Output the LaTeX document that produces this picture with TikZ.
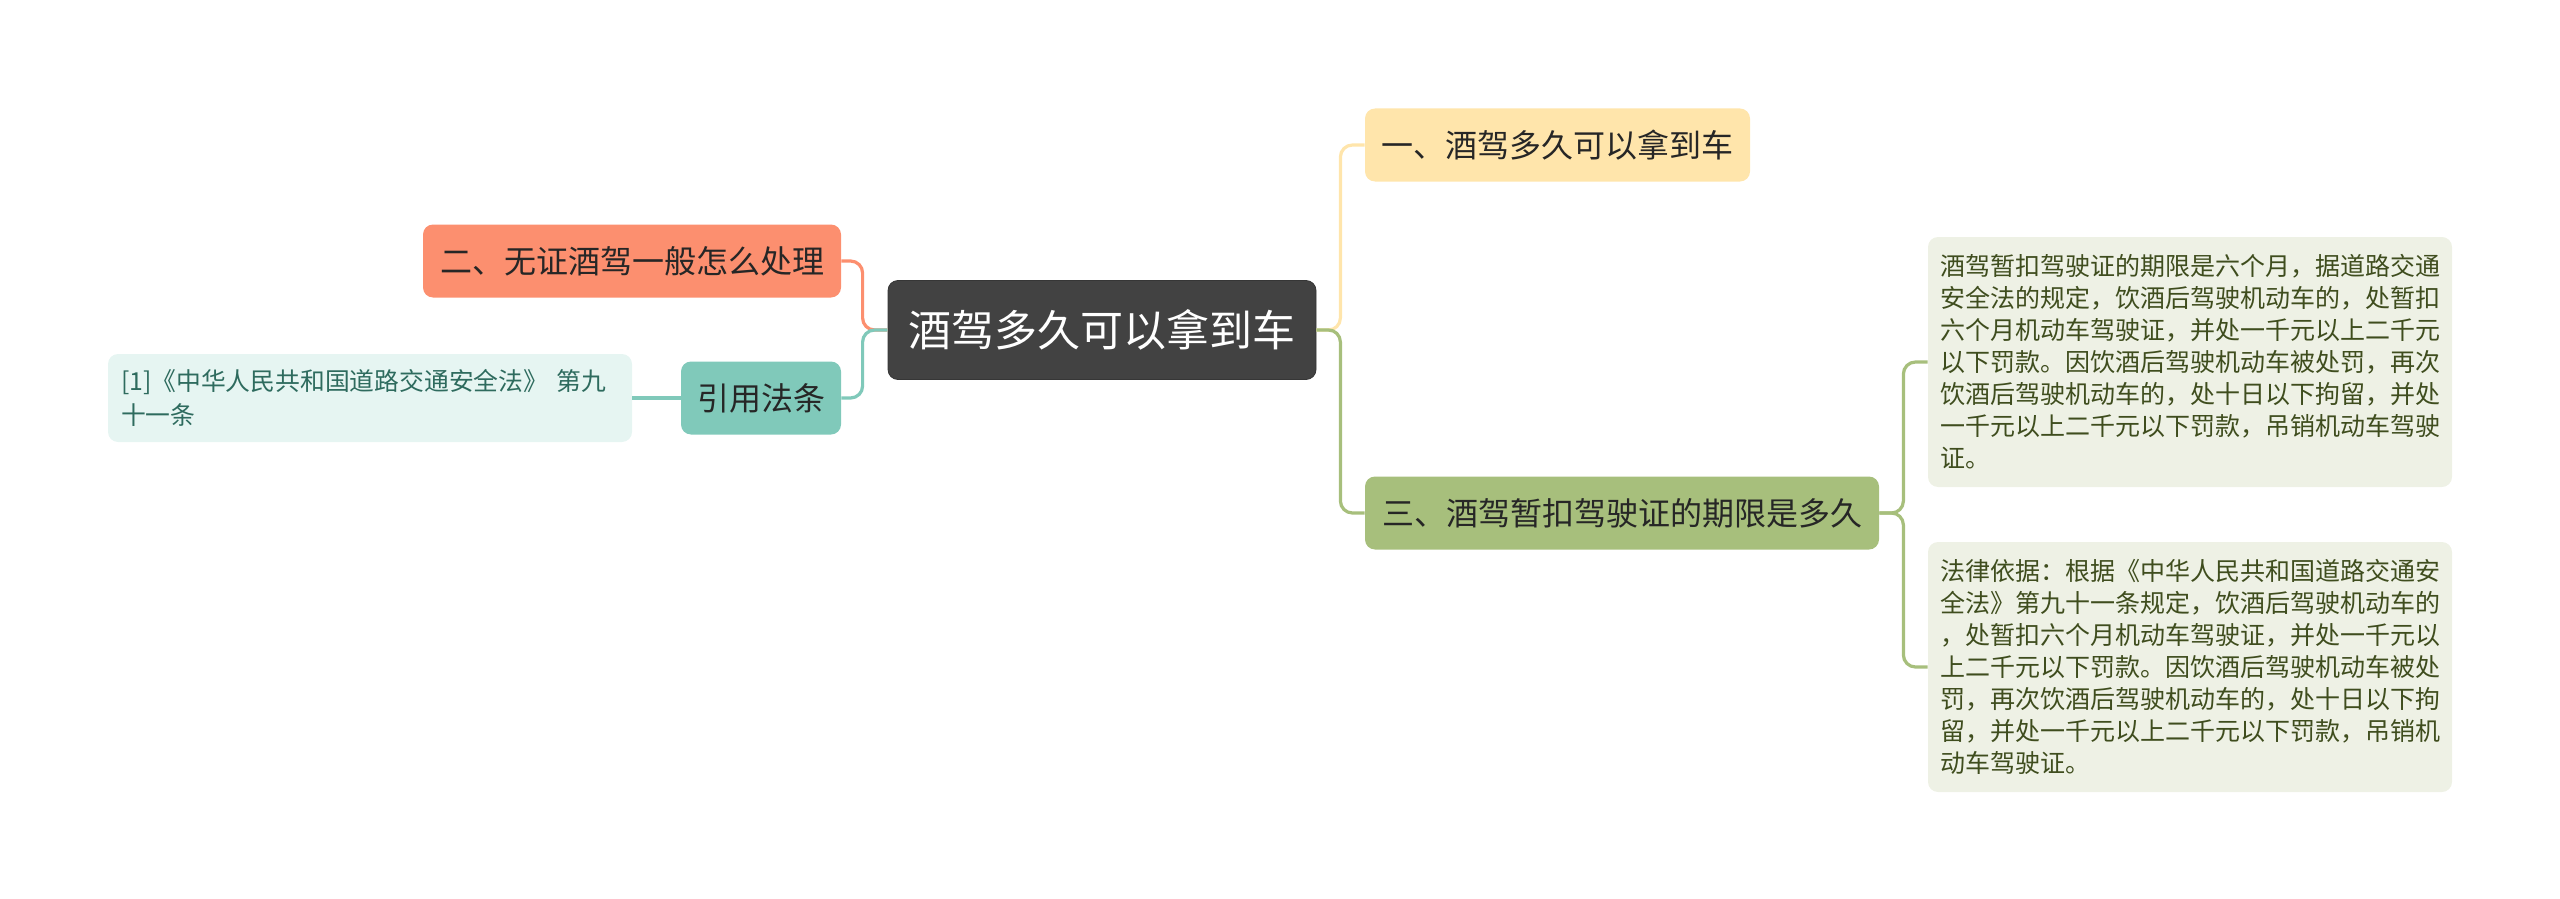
\documentclass[tikz,border=0pt]{standalone}
\usepackage{fontspec}
\setmainfont{Noto Sans CJK SC}
\usetikzlibrary{positioning}
\definecolor{rootgray}{HTML}{424242}
\definecolor{rootedge}{HTML}{363636}
\definecolor{yelfill}{HTML}{FFE5AB}
\definecolor{grnfill}{HTML}{A7BF7C}
\definecolor{salfill}{HTML}{FC8F6F}
\definecolor{tealfill}{HTML}{80C9BA}
\definecolor{reffill}{HTML}{E6F5F2}
\definecolor{reftext}{HTML}{2E6B5E}
\definecolor{notefill}{HTML}{EEF1E5}
\definecolor{notetext}{HTML}{3F4D1E}
\definecolor{textdark}{HTML}{262626}
\begin{document}
\begin{tikzpicture}[on grid, node distance=2cm,
    box/.style={rounded corners=5pt, inner sep=0pt, align=center},
    topic/.style={box, fill=rootgray, draw=rootedge, text=white, minimum width=214pt,
      minimum height=49.5pt, font=\fontsize{21.5}{26}\selectfont},
    branch/.style={box, minimum height=36.5pt, text=textdark, font=\fontsize{16}{20}\selectfont},
    note/.style={box, align=left, fill=notefill, text=notetext, text width=250pt, inner xsep=6pt,
      minimum height=125pt, font=\fontsize{12.5}{16}\selectfont},
    link/.style={line width=1.6pt, rounded corners=6pt}]
    \useasboundingbox (0,0) rectangle (1280pt,-449.5pt);%
    \node[topic] (root) at (551pt,-165pt) {酒驾多久可以拿到车};%
    \node[branch, fill=yelfill, minimum width=192.5pt] (one) [above right=92.5pt and 227.75pt of root] {一、酒驾多久可以拿到车};%
    \node[branch, fill=grnfill, minimum width=257pt] (three) [below right=91.5pt and 260pt of root] {三、酒驾暂扣驾驶证的期限是多久};%
    \node[branch, fill=salfill, minimum width=209pt] (two) [above left=34.5pt and 235pt of root] {二、无证酒驾一般怎么处理};%
    \node[branch, fill=tealfill, minimum width=80pt] (law) [below left=34pt and 170.5pt of root] {引用法条};%
    \node[box, align=left, fill=reffill, text=reftext, text width=249pt, inner xsep=6.5pt,
      minimum height=44pt, font=\fontsize{12.4}{17}\selectfont] (lawref) [left=195.5pt of law]
    {\mbox{[1]《中华人民共和国道路交通安全法》 第九}\\十一条};%
    \node[note] (period) [above right=75.5pt and 284pt of three]
    {酒驾暂扣驾驶证的期限是六个月，据道路交通\\安全法的规定，饮酒后驾驶机动车的，处暂扣\\六个月机动车驾驶证，并处一千元以上二千元\\以下罚款。因饮酒后驾驶机动车被处罚，再次\\饮酒后驾驶机动车的，处十日以下拘留，并处\\一千元以上二千元以下罚款，吊销机动车驾驶\\证。};%
    \node[note] (basis) [below right=77pt and 284pt of three]
    {法律依据：根据《中华人民共和国道路交通安\\全法》第九十一条规定，饮酒后驾驶机动车的\\，处暂扣六个月机动车驾驶证，并处一千元以\\上二千元以下罚款。因饮酒后驾驶机动车被处\\罚，再次饮酒后驾驶机动车的，处十日以下拘\\留，并处一千元以上二千元以下罚款，吊销机\\动车驾驶证。};%
    \draw[link, draw=yelfill] (root.east) -- ++(12pt,0) |- (one.west);%
    \draw[link, draw=grnfill] (root.east) -- ++(12pt,0) |- (three.west);%
    \draw[link, draw=salfill] (root.west) -- ++(-12.5pt,0) |- (two.east);%
    \draw[link, draw=tealfill] (root.west) -- ++(-12.5pt,0) |- (law.east);%
    \draw[link, draw=tealfill] (law.west) -- (lawref.east);%
    \draw[link, draw=grnfill] (three.east) -- ++(12pt,0) |- (period.west);%
    \draw[link, draw=grnfill] (three.east) -- ++(12pt,0) |- (basis.west);%
\end{tikzpicture}
\end{document}
